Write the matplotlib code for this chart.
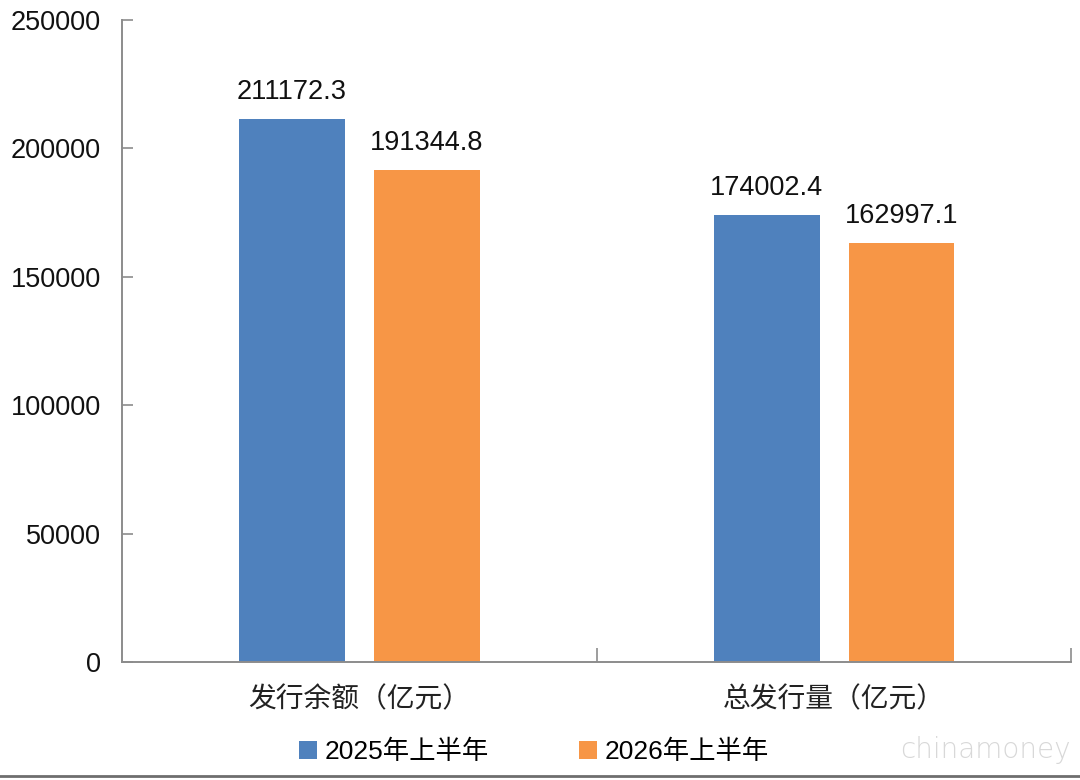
import matplotlib
matplotlib.use("Agg")
import matplotlib.pyplot as plt
import numpy as np
from matplotlib.lines import Line2D

plt.rcParams['font.family'] = ['Liberation Sans', 'Noto Sans CJK SC', 'DejaVu Sans']

categories = ['发行余额（亿元）', '总发行量（亿元）']
series_names = ['2025年上半年', '2026年上半年']
values_2025 = [211172.3, 174002.4]
values_2026 = [191344.8, 162997.1]
label_2025 = ['211172.3', '174002.4']
label_2026 = ['191344.8', '162997.1']
yticks = [0, 50000, 100000, 150000, 200000, 250000]

blue = '#4F81BD'
orange = '#F79646'
axc = '#8c8c8c'
NUM = 19.5
CJK = 20

fig = plt.figure(figsize=(10.8, 7.8), dpi=100)
ax = fig.add_axes([0.113, 0.151, 0.879, 0.824])

x = np.arange(len(categories))
w = 0.223
off = 0.142
b1 = ax.bar(x - off, values_2025, w, color=blue, label=series_names[0])
b2 = ax.bar(x + off, values_2026, w, color=orange, label=series_names[1])

for rects, labs in ((b1, label_2025), (b2, label_2026)):
    for r, lab in zip(rects, labs):
        ax.annotate(lab, (r.get_x() + r.get_width() / 2, r.get_height()),
                    xytext=(0, 10), textcoords='offset points',
                    ha='center', va='bottom', fontsize=NUM, color='#111111')

ax.set_xlim(-0.5, 1.5)
ax.set_ylim(0, 250000)
ax.set_yticks(yticks)
ax.set_yticklabels([str(t) for t in yticks], fontsize=NUM, color='#111111')
ax.tick_params(axis='y', direction='in', length=8, width=1.2, color=axc, pad=15)

ax.set_xticks(x)
ax.set_xticklabels(categories, fontsize=CJK, color='#222222',
                   family=['Noto Sans CJK SC', 'DejaVu Sans'])
ax.tick_params(axis='x', length=0, pad=16)
ax.set_xticks([0.5, 1.5], minor=True)
ax.tick_params(axis='x', which='minor', direction='in', length=10, width=1.2, color=axc)

for s in ('top', 'right'):
    ax.spines[s].set_visible(False)
for s in ('left', 'bottom'):
    ax.spines[s].set_color(axc)
    ax.spines[s].set_linewidth(1.4)

fig.legend(handles=[b1, b2], labels=series_names, loc='center',
           bbox_to_anchor=(534 / 1080, 1 - 752 / 780), ncol=2, frameon=False,
           handlelength=0.67, handleheight=0.67, handletextpad=0.3,
           columnspacing=3.4,
           prop={'family': ['Liberation Sans', 'Noto Sans CJK SC'], 'size': 19})

fig.text(985 / 1080, 1 - 750 / 780, 'chinamoney', ha='center', va='center',
         fontsize=20, color='#d8d8d8', family='DejaVu Sans', fontweight='light')

fig.add_artist(Line2D([0, 1], [1 - 775.5 / 780] * 2, transform=fig.transFigure,
                      color='#6e6e6e', linewidth=2))

fig.savefig('out.png', dpi=100)
